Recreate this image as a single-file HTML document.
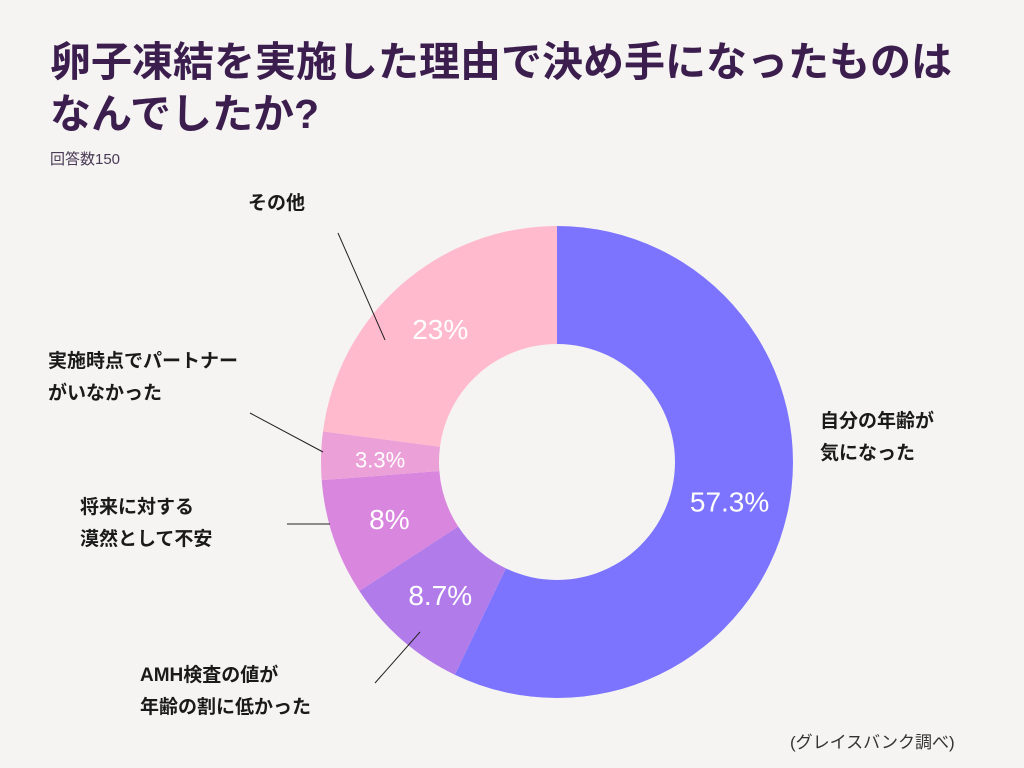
<!DOCTYPE html>
<html><head><meta charset="utf-8">
<style>
body{margin:0;width:1024px;height:768px;background:#f5f4f2;font-family:"Liberation Sans","Noto Sans CJK JP",sans-serif;overflow:hidden;position:relative}
.t{position:absolute;color:#3b1d4e;font-weight:bold}
.lab{position:absolute;color:#1a1a1a;font-weight:bold;font-size:19px;line-height:32px}
</style></head><body>
<div class="t" style="left:50px;top:36px;font-size:41px;line-height:52px;white-space:nowrap">卵子凍結を実施した理由で決め手になったものは<br>なんでしたか?</div>
<div class="t" style="left:50px;top:148px;font-size:15px;font-weight:normal;color:#4a3a55">回答数150</div>
<svg id="chart" width="1024" height="768" style="position:absolute;left:0;top:0">
<g id="slices"></g>
<g id="lines" stroke="#222" stroke-width="1">
<line x1="338" y1="233" x2="385" y2="340"/>
<line x1="250" y1="413" x2="323" y2="452"/>
<line x1="287" y1="524" x2="330" y2="524"/>
<line x1="375" y1="683" x2="420" y2="632"/>
</g>
</svg>
<div class="lab" style="left:820px;top:406px">自分の年齢が<br>気になった</div>
<div class="lab" style="left:140px;top:660px">AMH検査の値が<br>年齢の割に低かった</div>
<div class="lab" style="left:80px;top:492px">将来に対する<br>漠然として不安</div>
<div class="lab" style="left:48px;top:346px">実施時点でパートナー<br>がいなかった</div>
<div class="lab" style="left:248px;top:188px">その他</div>
<div style="position:absolute;left:790px;top:728px;font-size:17px;color:#333">(グレイスバンク調べ)</div>
<script>
const categories=["自分の年齢が気になった","AMH検査の値が年齢の割に低かった","将来に対する漠然として不安","実施時点でパートナーがいなかった","その他"];
const values=[57.3,8.7,8,3.3,23];
const valueLabels=["57.3%","8.7%","8%","3.3%","23%"];
const colors=["#7c74fe","#b27bea","#d986df","#eca0d8","#ffbacd"];
const cx=557,cy=462,R=236,r=118;
const total=values.reduce((a,b)=>a+b,0);
const g=document.getElementById('slices');
const ns="http://www.w3.org/2000/svg";
function pt(a,rad){return [cx+rad*Math.sin(a),cy-rad*Math.cos(a)];}
let acc=0;
values.forEach((v,i)=>{
 const a0=acc/total*2*Math.PI;acc+=v;const a1=acc/total*2*Math.PI;
 const lg=(a1-a0)>Math.PI?1:0;
 const [x0,y0]=pt(a0,R),[x1,y1]=pt(a1,R),[x2,y2]=pt(a1,r),[x3,y3]=pt(a0,r);
 const p=document.createElementNS(ns,'path');
 p.setAttribute('d',`M${x0},${y0}A${R},${R} 0 ${lg} 1 ${x1},${y1}L${x2},${y2}A${r},${r} 0 ${lg} 0 ${x3},${y3}Z`);
 p.setAttribute('fill',colors[i]);
 
 
 g.appendChild(p);
 const am=(a0+a1)/2;const [tx,ty]=pt(am,(R+r)/2);
 const t=document.createElementNS(ns,'text');
 t.setAttribute('x',tx);t.setAttribute('y',ty+10);
 t.setAttribute('text-anchor','middle');t.setAttribute('fill','#fff');
 t.setAttribute('font-size',v<5?22:28);
 t.setAttribute('font-family','"Liberation Sans",sans-serif');
 t.textContent=valueLabels[i];
 
 
 g.appendChild(t);
});
</script>
</body></html>
